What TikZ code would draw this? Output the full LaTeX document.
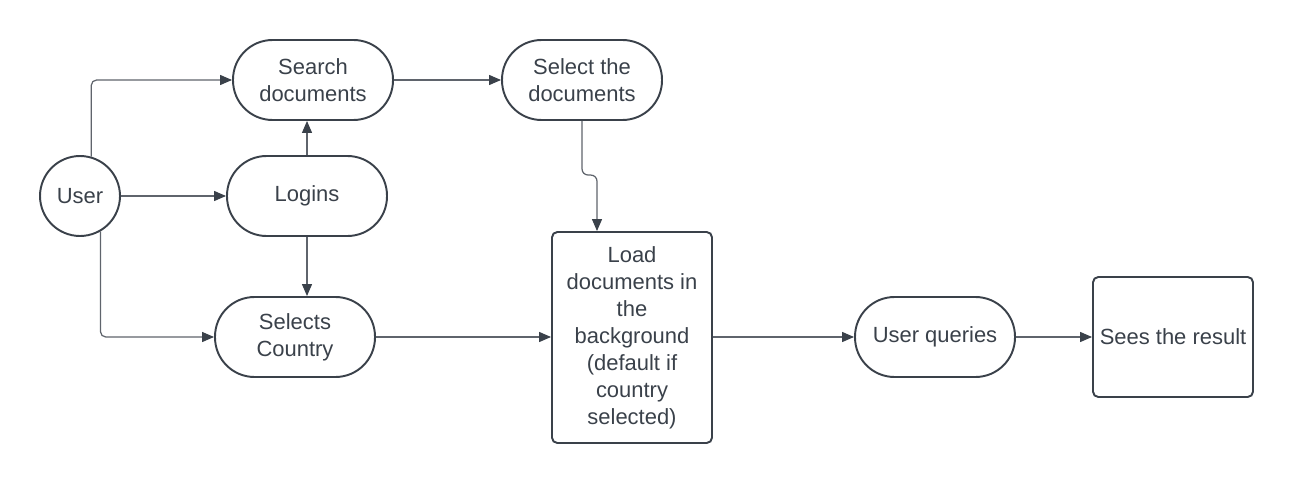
\documentclass[tikz,border=0pt]{standalone}
\usepackage{fontspec}
\setmainfont{Liberation Sans}
\usetikzlibrary{arrows.meta,calc}
\definecolor{dark}{RGB}{58,65,74}
\definecolor{linec}{RGB}{95,100,108}
\begin{document}
\begin{tikzpicture}[x=0.02cm,y=-0.02cm,
  every node/.style={font=\fontsize{12.5pt}{15.4pt}\selectfont, text=dark, align=center, inner sep=0pt},
  stadium/.style={draw=dark, line width=1.1pt, minimum width=3.2cm, minimum height=1.6cm, rounded corners=0.79cm},
  boxnode/.style={draw=dark, line width=1.1pt, rounded corners=3pt},
  usercircle/.style={draw=dark, line width=1.1pt, circle, minimum size=1.6cm},
  conn/.style={draw=linec, line width=0.7pt, -{Triangle[length=0.24cm,width=0.2cm,color=dark]}}
]
\useasboundingbox (0,0) rectangle (1294,483);
\node[usercircle] (user) at (80,196) {User};
\node[stadium] (search) at (313,80) {Search\\documents};
\node[stadium] (logins) at (307,196) {Logins};
\node[stadium] (country) at (295,337) {Selects\\Country};
\node[stadium] (seldocs) at (582,80) {Select the\\documents};
\node[boxnode, minimum width=3.2cm, minimum height=4.22cm] (load) at (632,337.5) {Load\\documents in\\the\\background\\(default if\\country\\selected)};
\node[stadium] (queries) at (935,337) {User queries};
\node[boxnode, minimum width=3.2cm, minimum height=2.4cm] (sees) at (1173,337) {Sees the result};

\draw[conn, rounded corners=3pt] (user.74) |- (search.west);
\draw[conn] (user.east) -- (logins.west);
\draw[conn] (logins.north) -- (logins.north |- search.south);
\draw[conn, rounded corners=3pt] (user.-60) |- (country.west);
\draw[conn] (logins.south) -- (logins.south |- country.north);
\draw[conn] (search.east) -- (seldocs.west);
\draw[conn, rounded corners=3.5pt] (seldocs.south) |- ([shift={(-35,-56)}]load.north) -- ([shift={(-35,0)}]load.north);
\draw[conn] (country.east) -- (country.east -| load.west);
\draw[conn] (load.east |- queries.west) -- (queries.west);
\draw[conn] (queries.east) -- (sees.west);
\end{tikzpicture}
\end{document}
